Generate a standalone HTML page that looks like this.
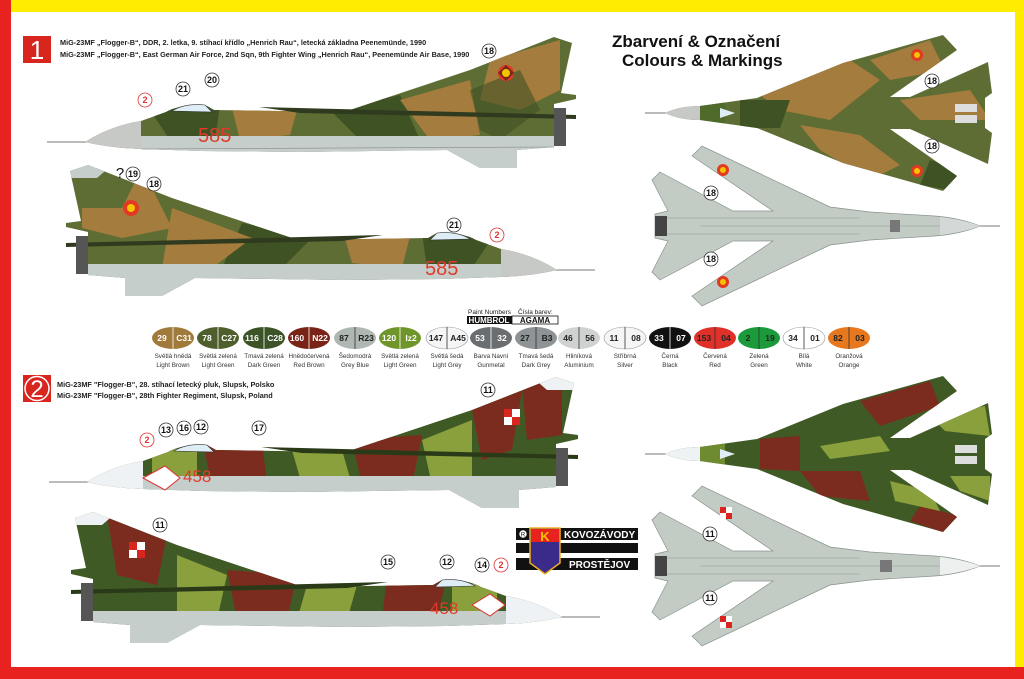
<!DOCTYPE html>
<html><head><meta charset="utf-8"><style>
html,body{margin:0;padding:0;background:#fff}
svg{display:block}
text{font-family:"Liberation Sans",sans-serif}
</style></head><body>
<svg width="1024" height="679" viewBox="0 0 1024 679" xmlns="http://www.w3.org/2000/svg">
<defs>
<clipPath id="side"><path d="M85,142 Q110,126 141,121 L166,112 Q180,104 205,105 L214,110 L344,112 L470,70 L554,37 L572,43 L561,93 L576,95 L576,99 L554,104 L554,147 L517,150 L517,168 L480,168 L447,150 L300,152 L200,151 L141,149 Q110,148 85,142 Z"/></clipPath>
<clipPath id="top"><path d="M665,113 Q680,106 700,106 L757,98 L843,63 L943,35 L957,50 L890,97 L910,97 L988,62 L992,93 L985,98 L985,128 L992,133 L988,164 L910,129 L890,129 L957,176 L943,191 L843,163 L757,128 L700,120 Q680,120 665,113 Z"/></clipPath>
</defs>
<rect width="1024" height="679" fill="#fff"/>
<rect x="0" y="0" width="1024" height="12" fill="#ffec00"/>
<rect x="1015" y="0" width="9" height="679" fill="#ffec00"/>
<rect x="0" y="0" width="11" height="679" fill="#e8231f"/>
<rect x="0" y="667" width="1024" height="12" fill="#e8231f"/>

<!-- headers -->
<rect x="23" y="36" width="28" height="27" fill="#d8261f"/>
<text x="37" y="59" font-size="26" fill="#fff" text-anchor="middle" font-family="Liberation Serif,serif">1</text>
<text x="60" y="45" font-size="7.3" font-weight="bold" fill="#222">MiG-23MF „Flogger-B“, DDR, 2. letka, 9. stíhací křídlo „Henrich Rau“, letecká základna Peenemünde, 1990</text>
<text x="60" y="57" font-size="7.3" font-weight="bold" fill="#222">MiG-23MF „Flogger-B“, East German Air Force, 2nd Sqn, 9th Fighter Wing „Henrich Rau“, Peenemünde Air Base, 1990</text>
<text x="612" y="47" font-size="17" font-weight="bold" fill="#111">Zbarvení &amp; Označení</text>
<text x="622" y="66" font-size="17" font-weight="bold" fill="#111">Colours &amp; Markings</text>

<rect x="23" y="375" width="28" height="27" fill="#d8261f"/>
<circle cx="37" cy="388.5" r="12" fill="none" stroke="#fff" stroke-width="1.5"/>
<text x="37" y="397" font-size="24" fill="#fff" text-anchor="middle" font-family="Liberation Serif,serif">2</text>
<text x="57" y="387" font-size="7.3" font-weight="bold" fill="#222">MiG-23MF "Flogger-B", 28. stíhací letecký pluk, Slupsk, Polsko</text>
<text x="57" y="398" font-size="7.3" font-weight="bold" fill="#222">MiG-23MF "Flogger-B", 28th Fighter Regiment, Slupsk, Poland</text>

<!-- side plane GDR template -->
<g id="p1">
<line x1="47" y1="142" x2="90" y2="142" stroke="#777" stroke-width="1"/>
<g clip-path="url(#side)">
<rect x="40" y="30" width="560" height="150" fill="#5d6d33"/>
<path d="M230,100 L300,100 L290,135 L240,140Z" fill="#a47c3e"/>
<path d="M330,110 L400,95 L420,140 L360,140Z" fill="#3f5224"/>
<path d="M400,100 L470,80 L480,135 L430,140Z" fill="#a47c3e"/>
<path d="M490,60 L560,40 L560,90 L520,110 L480,100Z" fill="#a47c3e"/>
<path d="M150,110 L220,105 L215,140 L170,140Z" fill="#3f5224"/>
<path d="M470,90 L520,70 L540,110 L500,140 L480,130Z" fill="#3f5224" opacity=".6"/>
<rect x="40" y="118" width="101" height="40" fill="#c6c9c6"/>
<rect x="141" y="136" width="420" height="40" fill="#c5ceca"/>
<path d="M447,150 L517,150 L517,168 L480,168Z" fill="#c5ceca"/>
</g>
<path d="M172,111 Q185,103 205,105 L212,112 Z" fill="#dfeef6" stroke="#333" stroke-width=".6"/>
<path d="M259,107 L576,115 L576,119 L300,113Z" fill="#2f3a1f"/>
<rect x="554" y="108" width="12" height="38" fill="#555"/>
<path d="M141,149 L554,147" stroke="#888" stroke-width=".6"/>
</g>
<text x="198" y="142" font-size="20" fill="#e03a2a" font-family="Liberation Sans,sans-serif">585</text>
<circle cx="506" cy="73" r="8" fill="#e23a22"/><path d="M498,73 L506,65 L514,73 L506,81Z" fill="#111" opacity=".5"/><circle cx="506" cy="73" r="4" fill="#f5c400"/>

<!-- plane 2 mirror -->
<g transform="translate(642,128) scale(-1,1)">
<line x1="47" y1="142" x2="90" y2="142" stroke="#777" stroke-width="1"/>
<g clip-path="url(#side)">
<rect x="40" y="30" width="560" height="150" fill="#5d6d33"/>
<path d="M230,100 L300,100 L290,135 L240,140Z" fill="#a47c3e"/>
<path d="M330,110 L400,95 L420,140 L360,140Z" fill="#3f5224"/>
<path d="M390,110 L470,80 L480,140 L430,140Z" fill="#a47c3e"/>
<path d="M490,60 L560,40 L560,100 L520,110 L470,100Z" fill="#a47c3e"/>
<path d="M150,110 L220,105 L215,140 L170,140Z" fill="#3f5224"/>
<path d="M500,40 L560,40 L560,80 L520,80Z" fill="#5d6d33"/>
<rect x="40" y="118" width="101" height="40" fill="#c6c9c6"/>
<rect x="141" y="136" width="420" height="40" fill="#c5ceca"/>
<path d="M447,150 L517,150 L517,168 L480,168Z" fill="#c5ceca"/>
<path d="M530,37 L575,37 L575,50 L545,50Z" fill="#c5ceca"/>
</g>
<path d="M172,111 Q185,103 205,105 L212,112 Z" fill="#dfeef6" stroke="#333" stroke-width=".6"/>
<path d="M259,107 L576,115 L576,119 L300,113Z" fill="#2f3a1f"/>
<rect x="554" y="108" width="12" height="38" fill="#555"/>
</g>
<text x="425" y="275" font-size="20" fill="#e03a2a">585</text>
<circle cx="131" cy="208" r="8" fill="#e23a22"/><circle cx="131" cy="208" r="4" fill="#f5c400"/>

<!-- plane 3 Polish -->
<g transform="translate(2,340)">
<line x1="47" y1="142" x2="90" y2="142" stroke="#777" stroke-width="1"/>
<g clip-path="url(#side)">
<rect x="40" y="30" width="560" height="150" fill="#3f5a24"/>
<path d="M200,100 L260,100 L265,145 L210,145Z" fill="#7b2c1e"/>
<path d="M290,110 L340,110 L350,145 L300,145Z" fill="#8aa03c"/>
<path d="M350,100 L420,95 L410,145 L360,145Z" fill="#7b2c1e"/>
<path d="M420,100 L470,80 L470,140 L430,145Z" fill="#8aa03c"/>
<path d="M470,70 L520,50 L510,110 L480,120Z" fill="#7b2c1e"/>
<path d="M520,45 L560,40 L560,95 L525,100Z" fill="#7b2c1e"/>
<path d="M150,110 L195,108 L195,145 L150,145Z" fill="#8aa03c"/>
<rect x="40" y="118" width="101" height="40" fill="#eef2f4"/>
<rect x="141" y="136" width="420" height="40" fill="#c5ceca"/>
<path d="M447,150 L517,150 L517,168 L480,168Z" fill="#c5ceca"/>
<path d="M530,37 L575,37 L575,50 L545,50Z" fill="#eef2f4"/>
</g>
<path d="M172,111 Q185,103 205,105 L212,112 Z" fill="#dfeef6" stroke="#333" stroke-width=".6"/>
<path d="M259,107 L576,115 L576,119 L300,113Z" fill="#2a3a18"/>
<rect x="554" y="108" width="12" height="38" fill="#555"/>
</g>
<path d="M143,478 L165,466 L180,478 L165,490Z" fill="#fff" stroke="#d33" stroke-width="1"/>
<text x="183" y="482" font-size="17" fill="#e03a2a">458</text>
<rect x="504" y="409" width="16" height="16" fill="#fff"/><rect x="504" y="409" width="8" height="8" fill="#d8261f"/><rect x="512" y="417" width="8" height="8" fill="#d8261f"/>

<!-- plane 4 mirror Polish -->
<g transform="translate(647,475) scale(-1,1)">
<line x1="47" y1="142" x2="90" y2="142" stroke="#777" stroke-width="1"/>
<g clip-path="url(#side)">
<rect x="40" y="30" width="560" height="150" fill="#3f5a24"/>
<path d="M200,100 L260,100 L265,145 L210,145Z" fill="#7b2c1e"/>
<path d="M290,110 L340,110 L350,145 L300,145Z" fill="#8aa03c"/>
<path d="M350,100 L420,95 L410,145 L360,145Z" fill="#7b2c1e"/>
<path d="M420,100 L470,80 L470,140 L430,145Z" fill="#8aa03c"/>
<path d="M480,60 L540,40 L530,100 L490,110Z" fill="#7b2c1e"/>
<path d="M150,110 L195,108 L195,145 L150,145Z" fill="#8aa03c"/>
<rect x="40" y="118" width="101" height="40" fill="#eef2f4"/>
<rect x="141" y="136" width="420" height="40" fill="#c5ceca"/>
<path d="M447,150 L517,150 L517,168 L480,168Z" fill="#c5ceca"/>
<path d="M530,37 L575,37 L575,50 L545,50Z" fill="#eef2f4"/>
</g>
<path d="M172,111 Q185,103 205,105 L212,112 Z" fill="#dfeef6" stroke="#333" stroke-width=".6"/>
<path d="M259,107 L576,115 L576,119 L300,113Z" fill="#2a3a18"/>
<rect x="554" y="108" width="12" height="38" fill="#555"/>
</g>
<path d="M472,605 L490,594 L505,605 L490,616Z" fill="#fff" stroke="#d33" stroke-width="1"/>
<text x="430" y="614" font-size="17" fill="#e03a2a">458</text>
<rect x="129" y="542" width="16" height="16" fill="#fff"/><rect x="129" y="542" width="8" height="8" fill="#d8261f"/><rect x="137" y="550" width="8" height="8" fill="#d8261f"/>

<!-- top view 1 -->
<g>
<line x1="645" y1="113" x2="668" y2="113" stroke="#777"/>
<g clip-path="url(#top)">
<rect x="640" y="30" width="380" height="170" fill="#5d6d33"/>
<path d="M760,95 L850,60 L880,80 L830,120 L780,110Z" fill="#a47c3e"/>
<path d="M870,60 L930,40 L945,70 L890,80Z" fill="#a47c3e"/>
<path d="M800,125 L860,135 L900,165 L870,180 L820,150Z" fill="#a47c3e"/>
<path d="M900,100 L970,90 L990,120 L920,120Z" fill="#a47c3e"/>
<path d="M740,100 L790,100 L780,128 L740,128Z" fill="#3f5224"/>
<path d="M930,160 L960,170 L950,190 L920,185Z" fill="#3f5224"/>
<rect x="640" y="100" width="60" height="30" fill="#c6c9c6"/>
<rect x="700" y="100" width="25" height="30" fill="#4f6a2a"/>
</g>
<path d="M720,108 L735,113 L720,118 Z" fill="#dfeef6"/>
<rect x="955" y="104" width="22" height="8" fill="#ddd"/><rect x="955" y="115" width="22" height="8" fill="#ddd"/>
<circle cx="917" cy="55" r="6" fill="#e23a22"/><circle cx="917" cy="55" r="3" fill="#f5c400"/>
<circle cx="917" cy="171" r="6" fill="#e23a22"/><circle cx="917" cy="171" r="3" fill="#f5c400"/>
</g>
<!-- top view 2 -->
<g transform="translate(0,341)">
<line x1="645" y1="113" x2="668" y2="113" stroke="#777"/>
<g clip-path="url(#top)">
<rect x="640" y="30" width="380" height="170" fill="#3f5a24"/>
<path d="M860,60 L930,40 L940,65 L880,85Z" fill="#7b2c1e"/>
<path d="M760,98 L800,95 L800,130 L760,128Z" fill="#7b2c1e"/>
<path d="M800,130 L860,130 L870,160 L820,155Z" fill="#7b2c1e"/>
<path d="M920,165 L960,175 L945,192 L910,180Z" fill="#7b2c1e"/>
<path d="M820,105 L880,95 L890,110 L830,118Z" fill="#8aa03c"/>
<path d="M890,140 L930,150 L940,170 L895,160Z" fill="#8aa03c"/>
<path d="M930,75 L985,65 L990,95 L945,90Z" fill="#8aa03c"/>
<path d="M950,135 L990,135 L990,160 L960,150Z" fill="#8aa03c"/>
<rect x="640" y="100" width="60" height="30" fill="#eef2f4"/>
<rect x="700" y="100" width="25" height="30" fill="#6f8b30"/>
</g>
<path d="M720,108 L735,113 L720,118 Z" fill="#dfeef6"/>
<rect x="955" y="104" width="22" height="8" fill="#ddd"/><rect x="955" y="115" width="22" height="8" fill="#ddd"/>
</g>

<!-- bottom views -->
<g id="bv">
<line x1="975" y1="226" x2="1000" y2="226" stroke="#777"/>
<path d="M980,226 Q960,218 935,216 L870,212 L830,207 L702,146 L692,156 L773,211 L733,211 L660,172 L652,180 L668,211 L655,214 L655,238 L668,241 L652,272 L660,280 L733,241 L773,241 L692,296 L702,306 L830,245 L870,240 L935,236 Q960,234 980,226 Z" fill="#c3cbc5" stroke="#8a928d" stroke-width=".7"/>
<path d="M940,217 Q965,220 980,226 Q965,232 940,235Z" fill="#d4d8d6"/>
<path d="M660,218 L860,218 M660,234 L860,234 M700,226 L940,226" stroke="#8f9893" stroke-width=".6"/>
<rect x="655" y="216" width="12" height="20" fill="#444"/>
<rect x="890" y="220" width="10" height="12" fill="#777"/>
</g>
<circle cx="723" cy="170" r="6" fill="#e23a22"/><circle cx="723" cy="170" r="3" fill="#f5c400"/>
<circle cx="723" cy="282" r="6" fill="#e23a22"/><circle cx="723" cy="282" r="3" fill="#f5c400"/>
<g transform="translate(0,340)">
<line x1="975" y1="226" x2="1000" y2="226" stroke="#777"/>
<path d="M980,226 Q960,218 935,216 L870,212 L830,207 L702,146 L692,156 L773,211 L733,211 L660,172 L652,180 L668,211 L655,214 L655,238 L668,241 L652,272 L660,280 L733,241 L773,241 L692,296 L702,306 L830,245 L870,240 L935,236 Q960,234 980,226 Z" fill="#c3cbc5" stroke="#8a928d" stroke-width=".7"/>
<path d="M940,217 Q965,220 980,226 Q965,232 940,235Z" fill="#eef0f0"/>
<path d="M660,218 L860,218 M660,234 L860,234 M700,226 L940,226" stroke="#8f9893" stroke-width=".6"/>
<rect x="655" y="216" width="12" height="20" fill="#444"/>
<rect x="880" y="220" width="12" height="12" fill="#777"/>
<rect x="720" y="167" width="12" height="12" fill="#fff"/><rect x="720" y="167" width="6" height="6" fill="#d8261f"/><rect x="726" y="173" width="6" height="6" fill="#d8261f"/>
<rect x="720" y="276" width="12" height="12" fill="#fff"/><rect x="720" y="276" width="6" height="6" fill="#d8261f"/><rect x="726" y="282" width="6" height="6" fill="#d8261f"/>
</g>

<!-- callouts -->
<g font-size="9" font-weight="bold" text-anchor="middle" stroke-width=".8">
<g fill="#fff" stroke="#333">
<circle cx="489" cy="51" r="7"/><circle cx="183" cy="89" r="7"/><circle cx="212" cy="80" r="7"/>
<circle cx="454" cy="225" r="7"/><circle cx="133" cy="174" r="7"/><circle cx="154" cy="184" r="7"/>
<circle cx="932" cy="81" r="7"/><circle cx="932" cy="146" r="7"/><circle cx="711" cy="193" r="7"/><circle cx="711" cy="259" r="7"/>
<circle cx="488" cy="390" r="7"/><circle cx="166" cy="430" r="7"/><circle cx="184" cy="428" r="7"/><circle cx="201" cy="427" r="7"/><circle cx="259" cy="428" r="7"/>
<circle cx="160" cy="525" r="7"/><circle cx="388" cy="562" r="7"/><circle cx="447" cy="562" r="7"/><circle cx="482" cy="565" r="7"/>
<circle cx="710" cy="534" r="7"/><circle cx="710" cy="598" r="7"/>
</g>
<g fill="#fff" stroke="#d33">
<circle cx="145" cy="100" r="7"/><circle cx="497" cy="235" r="7"/><circle cx="147" cy="440" r="7"/><circle cx="501" cy="565" r="7"/>
</g>
<g fill="#111">
<text x="489" y="54">18</text><text x="183" y="92">21</text><text x="212" y="83">20</text>
<text x="454" y="228">21</text><text x="133" y="177">19</text><text x="154" y="187">18</text>
<text x="932" y="84">18</text><text x="932" y="149">18</text><text x="711" y="196">18</text><text x="711" y="262">18</text>
<text x="488" y="393">11</text><text x="166" y="433">13</text><text x="184" y="431">16</text><text x="201" y="430">12</text><text x="259" y="431">17</text>
<text x="160" y="528">11</text><text x="388" y="565">15</text><text x="447" y="565">12</text><text x="482" y="568">14</text>
<text x="710" y="537">11</text><text x="710" y="601">11</text>
</g>
<g fill="#d33"><text x="145" y="103">2</text><text x="497" y="238">2</text><text x="147" y="443">2</text><text x="501" y="568">2</text></g>
<text x="120" y="178" font-size="15" font-weight="normal" fill="#111">?</text>
</g>

<!-- paint legend -->
<text x="468" y="314" font-size="6.5" fill="#222">Paint Numbers</text>
<text x="518" y="314" font-size="6.5" fill="#222">Čísla barev:</text>
<rect x="467" y="316" width="45" height="8" fill="#111"/>
<rect x="512" y="316" width="46" height="8" fill="#fff" stroke="#111" stroke-width=".8"/>
<text x="489" y="323" font-size="8" font-weight="bold" fill="#fff" text-anchor="middle">HUMBROL</text>
<text x="535" y="323" font-size="8" font-weight="bold" fill="#111" text-anchor="middle">AGAMA</text>

<g font-size="8.5" font-weight="bold" text-anchor="middle">
<g id="sw">
<ellipse cx="173" cy="338" rx="21" ry="11" fill="#a07a3a"/><ellipse cx="218" cy="338" rx="21" ry="11" fill="#4e5e2c"/>
<ellipse cx="264" cy="338" rx="21" ry="11" fill="#3b5327"/><ellipse cx="309" cy="338" rx="21" ry="11" fill="#7a2418"/>
<ellipse cx="355" cy="338" rx="21" ry="11" fill="#aeb7b2"/><ellipse cx="400" cy="338" rx="21" ry="11" fill="#6e962a"/>
<ellipse cx="447" cy="338" rx="21" ry="11" fill="#f5f5f5" stroke="#999" stroke-width=".6"/><ellipse cx="491" cy="338" rx="21" ry="11" fill="#6b6e70"/>
<ellipse cx="536" cy="338" rx="21" ry="11" fill="#8e9396"/><ellipse cx="579" cy="338" rx="21" ry="11" fill="#d0d2d2"/>
<ellipse cx="625" cy="338" rx="21" ry="11" fill="#f5f5f5" stroke="#999" stroke-width=".6"/><ellipse cx="670" cy="338" rx="21" ry="11" fill="#111"/>
<ellipse cx="715" cy="338" rx="21" ry="11" fill="#e0302a"/><ellipse cx="759" cy="338" rx="21" ry="11" fill="#1a9a3a"/>
<ellipse cx="804" cy="338" rx="21" ry="11" fill="#fff" stroke="#999" stroke-width=".6"/><ellipse cx="849" cy="338" rx="21" ry="11" fill="#e8781e"/>
</g>
<g stroke="#fff" stroke-width=".8">
<path d="M173,327v22M218,327v22M264,327v22M309,327v22M400,327v22M491,327v22M670,327v22"/>
</g>
<g stroke="#333" stroke-width=".8">
<path d="M355,327v22M447,327v22M536,327v22M579,327v22M625,327v22M715,327v22M759,327v22M804,327v22M849,327v22"/>
</g>
<g fill="#fff"><text x="162" y="341">29</text><text x="184" y="341">C31</text><text x="207" y="341">78</text><text x="229" y="341">C27</text><text x="252" y="341">116</text><text x="275" y="341">C28</text><text x="297" y="341">160</text><text x="320" y="341">N22</text><text x="389" y="341">120</text><text x="411" y="341">Iz2</text><text x="480" y="341">53</text><text x="502" y="341">32</text><text x="659" y="341">33</text><text x="681" y="341">07</text></g>
<g fill="#222"><text x="344" y="341">87</text><text x="366" y="341">R23</text><text x="436" y="341">147</text><text x="458" y="341">A45</text><text x="525" y="341">27</text><text x="547" y="341">B3</text><text x="568" y="341">46</text><text x="590" y="341">56</text><text x="614" y="341">11</text><text x="636" y="341">08</text><text x="704" y="341">153</text><text x="726" y="341">04</text><text x="748" y="341">2</text><text x="770" y="341">19</text><text x="793" y="341">34</text><text x="815" y="341">01</text><text x="838" y="341">82</text><text x="860" y="341">03</text></g>
</g>
<g font-size="6.3" fill="#333" text-anchor="middle">
<text x="173" y="358">Světlá hnědá</text><text x="173" y="367">Light Brown</text>
<text x="218" y="358">Světlá zelená</text><text x="218" y="367">Light Green</text>
<text x="264" y="358">Tmavá zelená</text><text x="264" y="367">Dark Green</text>
<text x="309" y="358">Hnědočervená</text><text x="309" y="367">Red Brown</text>
<text x="355" y="358">Šedomodrá</text><text x="355" y="367">Grey Blue</text>
<text x="400" y="358">Světlá zelená</text><text x="400" y="367">Light Green</text>
<text x="447" y="358">Světlá šedá</text><text x="447" y="367">Light Grey</text>
<text x="491" y="358">Barva Navní</text><text x="491" y="367">Gunmetal</text>
<text x="536" y="358">Tmavá šedá</text><text x="536" y="367">Dark Grey</text>
<text x="579" y="358">Hliníková</text><text x="579" y="367">Aluminium</text>
<text x="625" y="358">Stříbrná</text><text x="625" y="367">Silver</text>
<text x="670" y="358">Černá</text><text x="670" y="367">Black</text>
<text x="715" y="358">Červená</text><text x="715" y="367">Red</text>
<text x="759" y="358">Zelená</text><text x="759" y="367">Green</text>
<text x="804" y="358">Bílá</text><text x="804" y="367">White</text>
<text x="849" y="358">Oranžová</text><text x="849" y="367">Orange</text>
</g>

<!-- logo -->
<rect x="516" y="528" width="122" height="12" fill="#111"/>
<rect x="516" y="543" width="122" height="10" fill="#111"/>
<rect x="516" y="558" width="122" height="12" fill="#111"/>
<circle cx="523" cy="534" r="4" fill="#fff" stroke="#111" stroke-width=".6"/>
<text x="523" y="536.5" font-size="6" text-anchor="middle" fill="#111">R</text>
<path d="M530,528 L560,528 L560,563 L545,574 L530,563Z" fill="#3a2a8a" stroke="#f0b020" stroke-width="1.5"/>
<rect x="531" y="529" width="28" height="13" fill="#e8231f"/>
<text x="545" y="541" font-size="13" font-weight="bold" fill="#f5c400" text-anchor="middle">K</text>
<text x="564" y="538" font-size="10" font-weight="bold" fill="#fff">KOVOZÁVODY</text>
<text x="569" y="568" font-size="10" font-weight="bold" fill="#fff">PROSTĚJOV</text>
</svg>
</body></html>
